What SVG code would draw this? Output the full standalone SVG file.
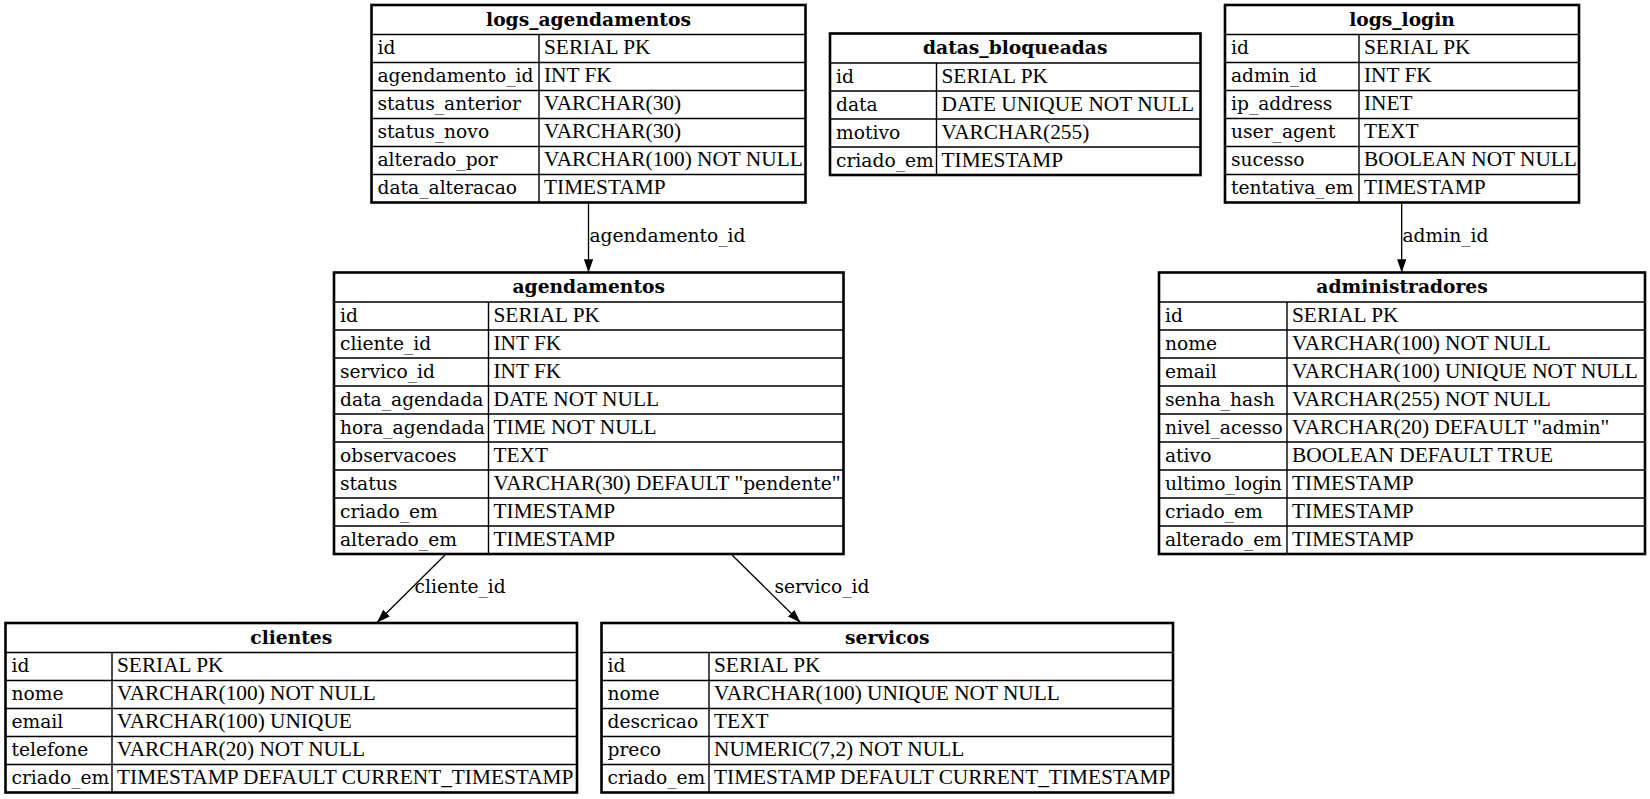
<svg xmlns="http://www.w3.org/2000/svg" width="1650" height="799" viewBox="0 0 1650 799">
<style>
text{font-family:"DejaVu Serif","Liberation Serif",serif;font-size:18.67px;fill:#000}
.h{font-weight:bold;text-anchor:middle}
.t,.u{font-family:"Liberation Serif","DejaVu Serif",serif;font-size:21.33px}
.o{fill:#fff;stroke:#000;stroke-width:2.6}
.g{stroke:#000;stroke-width:1.4;fill:none}
.e{stroke:#000;stroke-width:1.3;fill:none}
</style>
<defs>
<marker id="arr" viewBox="0 0 10 7" refX="10" refY="3.5" markerWidth="13.3" markerHeight="9.3" markerUnits="userSpaceOnUse" orient="auto"><path d="M0,0 L10,3.5 L0,7 z" fill="#000"/></marker>
</defs>
<rect width="1650" height="799" fill="#fff"/>

<g id="edges">
<line class="e" x1="588.5" y1="204" x2="588.5" y2="272.5" marker-end="url(#arr)"/>
<text x="589.5" y="242">agendamento_id</text>
<line class="e" x1="1401.7" y1="204" x2="1401.7" y2="272.5" marker-end="url(#arr)"/>
<text x="1402.5" y="242">admin_id</text>
<line class="e" x1="445" y1="555" x2="377" y2="622.5" marker-end="url(#arr)"/>
<text x="414.5" y="593">cliente_id</text>
<line class="e" x1="732" y1="555" x2="800.5" y2="622.5" marker-end="url(#arr)"/>
<text x="774.5" y="593">servico_id</text>
</g>

<g id="logs_agendamentos">
<rect class="o" x="371.5" y="5" width="434" height="197.5"/>
<path class="g" d="M371.5,34.5H805.5M371.5,62.5H805.5M371.5,90.5H805.5M371.5,118.5H805.5M371.5,146.5H805.5M371.5,174.5H805.5M539,34.5V202.5"/>
<text class="h" x="588.5" y="25.5">logs_agendamentos</text>
<text x="377.5" y="54">id</text><text class="t" x="544" y="54">SERIAL PK</text>
<text x="377.5" y="82">agendamento_id</text><text class="t" x="544" y="82">INT FK</text>
<text x="377.5" y="110">status_anterior</text><text class="t" x="544" y="110">VARCHAR(30)</text>
<text x="377.5" y="138">status_novo</text><text class="t" x="544" y="138">VARCHAR(30)</text>
<text x="377.5" y="166">alterado_por</text><text class="t" x="544" y="166">VARCHAR(100) NOT NULL</text>
<text x="377.5" y="194">data_alteracao</text><text class="t" x="544" y="194">TIMESTAMP</text>
</g>

<g id="datas_bloqueadas">
<rect class="o" x="830" y="33.5" width="370.5" height="141.5"/>
<path class="g" d="M830,63H1200.5M830,91H1200.5M830,119H1200.5M830,147H1200.5M936.5,63V175"/>
<text class="h" x="1015.25" y="54">datas_bloqueadas</text>
<text x="836" y="82.5">id</text><text class="t" x="941.5" y="82.5">SERIAL PK</text>
<text x="836" y="110.5">data</text><text class="t" x="941.5" y="110.5">DATE UNIQUE NOT NULL</text>
<text x="836" y="138.5">motivo</text><text class="t" x="941.5" y="138.5">VARCHAR(255)</text>
<text x="836" y="166.5">criado_em</text><text class="t" x="941.5" y="166.5">TIMESTAMP</text>
</g>

<g id="logs_login">
<rect class="o" x="1225" y="5" width="354" height="197.5"/>
<path class="g" d="M1225,34.5H1579M1225,62.5H1579M1225,90.5H1579M1225,118.5H1579M1225,146.5H1579M1225,174.5H1579M1359,34.5V202.5"/>
<text class="h" x="1402" y="25.5">logs_login</text>
<text x="1231" y="54">id</text><text class="t" x="1364" y="54">SERIAL PK</text>
<text x="1231" y="82">admin_id</text><text class="t" x="1364" y="82">INT FK</text>
<text x="1231" y="110">ip_address</text><text class="t" x="1364" y="110">INET</text>
<text x="1231" y="138">user_agent</text><text class="t" x="1364" y="138">TEXT</text>
<text x="1231" y="166">sucesso</text><text class="t" x="1364" y="166">BOOLEAN NOT NULL</text>
<text x="1231" y="194">tentativa_em</text><text class="t" x="1364" y="194">TIMESTAMP</text>
</g>

<g id="agendamentos">
<rect class="o" x="334" y="272.5" width="509.5" height="281.5"/>
<path class="g" d="M334,302H843.5M334,330H843.5M334,358H843.5M334,386H843.5M334,414H843.5M334,442H843.5M334,470H843.5M334,498H843.5M334,526H843.5M488.5,302V554"/>
<text class="h" x="588.75" y="293">agendamentos</text>
<text x="340" y="321.5">id</text><text class="t" x="493.5" y="321.5">SERIAL PK</text>
<text x="340" y="349.5">cliente_id</text><text class="t" x="493.5" y="349.5">INT FK</text>
<text x="340" y="377.5">servico_id</text><text class="t" x="493.5" y="377.5">INT FK</text>
<text x="340" y="405.5">data_agendada</text><text class="t" x="493.5" y="405.5">DATE NOT NULL</text>
<text x="340" y="433.5">hora_agendada</text><text class="t" x="493.5" y="433.5">TIME NOT NULL</text>
<text x="340" y="461.5">observacoes</text><text class="t" x="493.5" y="461.5">TEXT</text>
<text x="340" y="489.5">status</text><text x="493.5" y="489.5"><tspan class="u">VARCHAR(30) DEFAULT "</tspan>pendente<tspan class="u">"</tspan></text>
<text x="340" y="517.5">criado_em</text><text class="t" x="493.5" y="517.5">TIMESTAMP</text>
<text x="340" y="545.5">alterado_em</text><text class="t" x="493.5" y="545.5">TIMESTAMP</text>
</g>

<g id="administradores">
<rect class="o" x="1159" y="272.5" width="486" height="281.5"/>
<path class="g" d="M1159,302H1645M1159,330H1645M1159,358H1645M1159,386H1645M1159,414H1645M1159,442H1645M1159,470H1645M1159,498H1645M1159,526H1645M1287,302V554"/>
<text class="h" x="1402" y="293">administradores</text>
<text x="1165" y="321.5">id</text><text class="t" x="1292" y="321.5">SERIAL PK</text>
<text x="1165" y="349.5">nome</text><text class="t" x="1292" y="349.5">VARCHAR(100) NOT NULL</text>
<text x="1165" y="377.5">email</text><text class="t" x="1292" y="377.5">VARCHAR(100) UNIQUE NOT NULL</text>
<text x="1165" y="405.5">senha_hash</text><text class="t" x="1292" y="405.5">VARCHAR(255) NOT NULL</text>
<text x="1165" y="433.5">nivel_acesso</text><text x="1292" y="433.5"><tspan class="u">VARCHAR(20) DEFAULT "</tspan>admin<tspan class="u">"</tspan></text>
<text x="1165" y="461.5">ativo</text><text class="t" x="1292" y="461.5">BOOLEAN DEFAULT TRUE</text>
<text x="1165" y="489.5">ultimo_login</text><text class="t" x="1292" y="489.5">TIMESTAMP</text>
<text x="1165" y="517.5">criado_em</text><text class="t" x="1292" y="517.5">TIMESTAMP</text>
<text x="1165" y="545.5">alterado_em</text><text class="t" x="1292" y="545.5">TIMESTAMP</text>
</g>

<g id="clientes">
<rect class="o" x="5.5" y="623" width="571.5" height="169.5"/>
<path class="g" d="M5.5,652.5H577M5.5,680.5H577M5.5,708.5H577M5.5,736.5H577M5.5,764.5H577M112,652.5V792.5"/>
<text class="h" x="291.25" y="643.5">clientes</text>
<text x="11.5" y="672">id</text><text class="t" x="117" y="672">SERIAL PK</text>
<text x="11.5" y="700">nome</text><text class="t" x="117" y="700">VARCHAR(100) NOT NULL</text>
<text x="11.5" y="728">email</text><text class="t" x="117" y="728">VARCHAR(100) UNIQUE</text>
<text x="11.5" y="756">telefone</text><text class="t" x="117" y="756">VARCHAR(20) NOT NULL</text>
<text x="11.5" y="784">criado_em</text><text class="t" x="117" y="784">TIMESTAMP DEFAULT CURRENT_TIMESTAMP</text>
</g>

<g id="servicos">
<rect class="o" x="601.5" y="623" width="571.5" height="169.5"/>
<path class="g" d="M601.5,652.5H1173M601.5,680.5H1173M601.5,708.5H1173M601.5,736.5H1173M601.5,764.5H1173M709,652.5V792.5"/>
<text class="h" x="887.25" y="643.5">servicos</text>
<text x="607.5" y="672">id</text><text class="t" x="714" y="672">SERIAL PK</text>
<text x="607.5" y="700">nome</text><text class="t" x="714" y="700">VARCHAR(100) UNIQUE NOT NULL</text>
<text x="607.5" y="728">descricao</text><text class="t" x="714" y="728">TEXT</text>
<text x="607.5" y="756">preco</text><text class="t" x="714" y="756">NUMERIC(7,2) NOT NULL</text>
<text x="607.5" y="784">criado_em</text><text class="t" x="714" y="784">TIMESTAMP DEFAULT CURRENT_TIMESTAMP</text>
</g>
</svg>
